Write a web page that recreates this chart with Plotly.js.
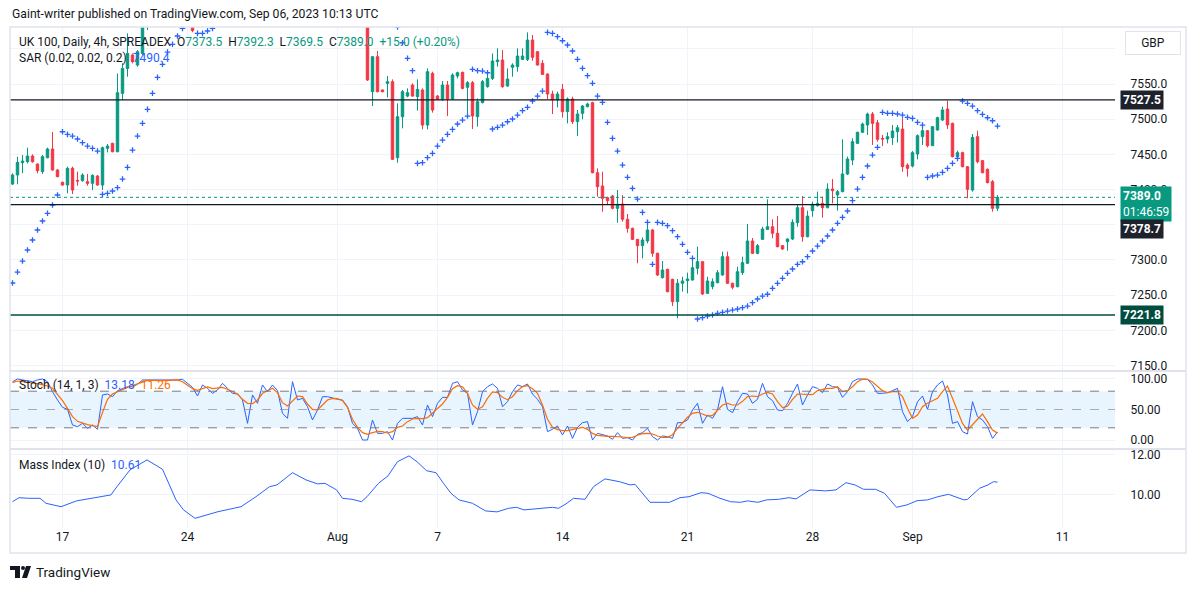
<!DOCTYPE html>
<html><head><meta charset="utf-8">
<script src="https://cdn.plot.ly/plotly-3.0.1.min.js"></script>
<style>html,body{margin:0;padding:0;background:#fff;}#chart{width:1195px;height:589px;}</style>
</head><body><div id="chart"></div>
<script>
// ---- candle data (candle index, OHLC) ----
const candleIdx = [0,1,2,3,4,5,6,7,8,9,10,11,12,13,14,15,16,17,18,19,20,21,22,23,24,25,26,27,36,
71,72,73,74,75,76,77,78,79,80,81,82,83,84,85,86,87,88,89,90,91,92,93,94,95,96,97,98,99,
100,101,102,103,104,105,106,107,108,109,110,111,112,113,114,115,116,117,118,119,
120,121,122,123,124,125,126,127,128,129,130,131,132,133,134,135,136,137,138,139,
140,141,142,143,144,145,146,147,148,149,150,151,152,153,154,155,156,157,158,159,
160,161,162,163,164,165,166,167,168,169,170,171,172,173,174,175,176,177,178,179,
180,181,182,183,184,185,186,187,188,189,190,191,192,193,194,195,196,197];
const opens = [7407.9,7420.7,7438.2,7439.7,7447.7,7436.3,7425.5,7445.3,7457.7,7427.8,7410.3,7406.5,7430.2,7413.1,7412.7,7411.3,7408.9,7419.3,7406.5,7458.6,7465.7,7453.9,7536.7,7572.2,7591.2,7577.0,7593.5,7650,7665,
7660,7539.1,7588.8,7541.5,7550.9,7553.3,7445.3,7503.6,7532.9,7548.6,7532.0,7541.5,7491.7,7565.1,7532.9,7528.2,7548.6,7528.7,7561.4,7566.6,7545.3,7551.9,7503.6,7523.5,7546.2,7558.0,7581.7,7584.1,7547.2,
7573.7,7574.6,7585.0,7585.0,7612.5,7595.9,7579.4,7564.2,7535.8,7527.3,7542.4,7510.7,7528.7,7496.5,7508.3,7517.8,7523.5,7424.0,7405.1,7388.5,
7390.9,7373.4,7379.5,7357.8,7345.0,7329.3,7320.4,7327.0,7342.6,7309.5,7274.9,7286.7,7272.5,7240.8,7266.9,7270.6,7271.6,7288.2,7297.6,7252.6,
7262.1,7267.8,7278.7,7304.7,7266.9,7262.1,7282.0,7295.3,7327.0,7309.5,7329.3,7343.5,7347.3,7337.9,7320.4,7326.0,7329.8,7353.0,7374.3,7333.1,
7370.1,7377.2,7380.5,7374.3,7400.9,7392.3,7397.1,7422.2,7442.0,7465.7,7481.4,7491.8,7507.4,7495.1,7472.8,7471.9,7473.8,7482.3,7486.1,7434.9,
7433.5,7450.6,7475.2,7483.7,7462.4,7484.7,7498.9,7514.5,7494.1,7446.8,7452.5,7432.6,7399.4,7475.2,7441.1,7428.8,7411.3,7373.5];
const highs = [7423.1,7446.8,7449.1,7459.6,7450.1,7437.3,7449.1,7459.6,7481.8,7429.2,7411.3,7432.6,7432.6,7425.5,7423.1,7422.2,7421.7,7420.7,7461.0,7464.8,7466.6,7565.1,7579.4,7622.0,7593.5,7598.3,7660,7680,7675,
7670,7589.8,7596.9,7542.4,7561.4,7556.6,7522.5,7541.5,7543.8,7550.9,7556.6,7543.8,7572.2,7567.5,7534.4,7554.3,7554.3,7565.1,7567.5,7567.5,7554.3,7554.3,7529.6,7555.7,7562.8,7593.5,7600.7,7598.3,7572.2,
7579.4,7600.7,7600.7,7623.4,7619.6,7596.9,7584.1,7565.1,7540.5,7539.1,7550.0,7531.0,7532.0,7513.1,7520.2,7523.5,7524.9,7430.2,7425.5,7390.0,
7392.3,7399.4,7392.3,7365.3,7345.9,7329.8,7332.2,7354.4,7344.0,7310.4,7298.6,7287.7,7273.5,7273.0,7276.3,7282.0,7304.7,7318.9,7298.6,7276.3,
7273.9,7285.8,7311.9,7311.9,7267.8,7290.5,7304.7,7351.1,7331.2,7322.7,7347.3,7386.2,7357.8,7362.5,7321.3,7330.8,7357.8,7378.1,7390.9,7370.1,
7382.9,7397.1,7390.0,7408.9,7415.0,7399.4,7471.4,7446.8,7472.8,7482.3,7495.1,7509.3,7510.2,7498.9,7477.6,7481.4,7491.8,7491.8,7502.2,7437.3,
7454.8,7478.5,7494.1,7484.7,7490.3,7503.6,7517.8,7526.3,7495.1,7455.3,7453.9,7433.5,7479.0,7483.7,7442.0,7430.2,7413.6,7392.3];
const lows = [7406.5,7407.5,7423.1,7437.3,7438.2,7423.1,7422.2,7444.4,7426.9,7417.4,7405.6,7394.7,7393.7,7405.6,7411.3,7405.6,7399.4,7405.6,7399.4,7452.9,7452.9,7452.9,7527.3,7560.4,7579.4,7574.6,7591.0,7626.7,7623.5,
7554.3,7518.7,7538.2,7538.2,7531.0,7442.0,7438.2,7487.0,7531.0,7532.0,7512.1,7485.6,7485.6,7509.3,7527.3,7525.8,7504.5,7527.3,7558.0,7542.4,7508.3,7486.1,7489.4,7522.5,7544.8,7555.7,7574.6,7544.8,7546.2,
7560.4,7567.5,7584.1,7582.7,7583.1,7576.0,7562.8,7528.7,7507.4,7516.8,7502.2,7494.1,7493.2,7476.1,7499.8,7516.9,7423.1,7390.0,7368.6,7378.1,
7371.9,7353.0,7354.4,7338.8,7328.4,7295.3,7302.4,7323.7,7304.7,7277.3,7273.9,7254.1,7234.7,7217.1,7255.0,7252.6,7270.6,7279.6,7250.3,7251.7,
7258.3,7266.9,7277.7,7265.9,7258.3,7261.2,7278.7,7294.3,7308.5,7308.0,7328.4,7342.6,7330.8,7318.0,7314.2,7313.2,7328.4,7347.3,7326.0,7332.2,
7361.5,7375.7,7360.1,7373.4,7380.5,7370.1,7396.1,7420.7,7434.9,7464.8,7480.9,7477.6,7463.4,7468.1,7461.9,7465.7,7463.4,7466.7,7425.5,7418.4,
7431.6,7443.0,7463.4,7460.0,7461.9,7483.7,7497.4,7486.1,7445.8,7442.0,7431.6,7387.6,7397.1,7437.3,7423.1,7408.9,7368.6,7369.5];
const closes = [7420.7,7438.7,7440.6,7447.7,7439.7,7426.9,7446.8,7457.7,7427.8,7418.4,7406.5,7430.2,7399.4,7412.2,7420.7,7408.9,7420.2,7406.5,7459.6,7461.9,7453.9,7537.7,7572.2,7593.5,7581.7,7595.9,7650,7665,7626,
7555.7,7588.8,7539.1,7539.1,7553.3,7443.0,7503.6,7539.1,7537.7,7532.9,7542.4,7491.7,7567.5,7513.1,7528.2,7548.6,7528.7,7562.8,7566.1,7543.8,7551.9,7504.5,7524.9,7553.3,7558.0,7582.7,7584.1,7546.2,7557.1,
7577.0,7589.8,7589.8,7612.5,7587.9,7577.0,7563.7,7535.8,7527.3,7535.8,7510.7,7528.7,7496.5,7507.4,7518.7,7521.6,7424.0,7404.2,7387.6,7384.3,
7373.4,7379.1,7357.8,7345.0,7329.3,7320.4,7328.4,7342.6,7309.5,7278.7,7285.8,7255.0,7240.8,7266.9,7270.2,7273.0,7289.1,7297.6,7251.7,7270.2,
7269.2,7282.0,7304.7,7266.9,7261.2,7283.4,7296.2,7327.0,7309.5,7320.4,7344.0,7347.3,7337.9,7318.9,7315.6,7329.8,7353.5,7374.3,7333.1,7362.5,
7379.1,7380.5,7374.3,7400.9,7398.5,7397.1,7422.2,7443.5,7468.1,7481.4,7493.2,7507.4,7494.1,7471.4,7471.9,7475.2,7483.2,7487.9,7432.6,7430.2,
7452.5,7476.6,7483.7,7462.4,7489.4,7502.2,7513.1,7491.8,7446.8,7452.5,7432.6,7400.4,7474.2,7439.7,7424.0,7409.9,7373.4,7389.0];

// ---- Parabolic SAR ----
const sarIdx = [0,1,2,3,4,5,6,7,8,9,10,11,12,13,14,15,16,17,18,19,20,21,22,23,24,25,26,27,28,29,30,31,32,33,34,37,38,39,40,
77,78,79,80,81,82,83,84,85,86,87,88,89,90,91,92,93,94,95,96,97,98,99,100,101,102,103,104,105,106,
107,108,109,110,111,112,113,114,115,116,117,118,119,120,121,122,123,124,125,126,127,128,
129,130,131,132,133,134,135,136,137,138,139,140,141,142,143,144,145,146,147,148,149,150,151,152,153,154,155,156,157,158,159,
160,161,162,163,164,165,166,167,168,169,170,171,172,173,174,175,176,177,178,179,180,181,182,183,184,185,186,187,188,189,
190,191,192,193,194,195,196,197];
const sarVal = [7267.3,7282.9,7298.5,7314.2,7328.4,7342.6,7355.4,7366.3,7378.1,7392.3,7482.2,7478.5,7476.1,7471.9,7466.6,7461.9,7458.6,7454.8,7393.3,7394.7,7398.0,7402.7,7415.0,7431.6,7456.2,7476.1,7494.2,7514.0,7536.8,7559.5,7578.0,7595.4,7606.4,7618.2,7629.1,7622.0,7622.0,7625.3,7629.1,
7631.0,7608.6,7586.5,7568.9,7437.3,7438.2,7445.3,7451.5,7461.9,7470.4,7478.5,7485.6,7493.2,7498.8,7504.5,7570.9,7568.9,7568.4,7566.0,7486.1,7488.5,7491.7,7496.4,7500.3,7505.9,7512.1,7516.9,7525.8,7532.9,7540.0,
7623.4,7622.0,7617.2,7611.5,7605.4,7596.9,7585.1,7572.3,7561.8,7551.0,7532.9,7524.0,7495.6,7472.8,7454.8,7434.9,7417.5,7401.8,7386.6,7367.7,7353.5,7293.9,
7353.5,7352.1,7348.7,7341.6,7333.1,7322.3,7310.9,7302.4,7216.2,7218.0,7220.4,7221.8,7224.3,7225.7,7227.5,7228.9,7230.4,7232.2,7234.6,7239.3,7244.6,7248.8,7251.3,7259.8,7266.9,7274.0,7281.1,7287.2,7293.9,7297.5,7304.7,
7312.8,7319.8,7327.0,7334.1,7342.6,7352.1,7360.6,7369.6,7384.2,7400.8,7417.4,7433.5,7449.1,7460.1,7509.8,7508.4,7508.4,7507.4,7505.9,7502.7,7501.2,7495.6,7491.7,7417.4,7419.3,7420.7,7424.5,7430.2,7437.3,7444.4,
7525.8,7522.6,7518.7,7512.1,7506.9,7502.1,7497.8,7490.3];

// ---- Stochastic (14,1,3): %K and %D per candle 0..197 ----
const stochK = [95.6,100,98.4,96.7,95.6,98.4,100,95.6,79.2,65.6,
53.6,50.3,24.6,21.9,27.3,19.1,24.6,17.5,73.8,75.4,
71.0,80.9,84.7,87.4,87.4,91.3,98.4,98.4,97.2,97.2,
97.2,97.2,98.4,98.4,99.5,92.9,86.3,72.1,90.2,84.7,
76.5,82.0,92.9,84.7,76.5,75.4,65.6,27.3,73.8,60.1,
90.2,79.2,90.2,80.9,43.7,35.5,95.6,65.6,68.3,54.6,
32.8,49.2,71.0,71.0,68.3,66.7,65.6,54.6,27.3,19.1,
0,0,32.8,10.9,10.9,13.7,0,27.3,35.5,35.5,
35.5,38.3,24.6,57.4,38.3,60.1,69.9,69.9,92.9,95.6,
82.0,76.5,24.6,46.4,79.2,87.4,91.8,84.7,54.6,62.8,
79.2,90.2,87.4,91.8,75.4,66.7,54.6,13.7,17.5,23.0,
8.2,23.0,2.7,20.8,28.4,30.1,0,10.9,8.2,6.6,
1.1,12.0,2.7,3.8,0,9.3,12.0,19.1,5.5,0,
6.6,5.5,2.7,28.4,28.4,32.8,49.2,60.1,27.3,41.0,
35.5,49.2,87.4,50.3,44.8,62.8,76.5,75.4,60.1,66.7,
92.9,71.0,64.5,49.2,48.1,60.1,76.5,91.8,57.4,73.8,
87.4,84.7,77.6,91.8,87.4,86.3,69.9,79.2,95.6,100,
100,99.5,90.2,76.5,76.5,77.6,80.9,84.7,46.4,30.1,
38.3,62.8,72.1,50.3,79.2,90.2,96.7,73.8,27.3,30.1,
13.7,9.8,62.8,38.3,32.8,21.9,2.7,13.18];
const stochD = [94.0,96.7,95.6,95.1,93.4,92.3,90.2,88.5,84.7,75.4,
64.5,51.9,38.3,30.6,27.3,25.1,23.5,21.9,45.0,66.7,
75.4,79.2,83.1,86.3,89.1,91.8,95.6,97.8,97.8,97.2,
97.2,97.8,98.4,98.4,95.6,90.2,84.2,81.4,84.7,86.9,
84.2,84.7,86.3,83.1,78.7,75.4,66.7,60.1,59.6,65.6,
76.5,80.9,84.7,77.6,61.2,55.7,64.5,72.1,71.0,59.0,
50.3,49.2,57.4,65.6,68.3,67.8,64.5,53.6,33.9,20.8,
12.0,9.3,12.0,14.2,13.7,11.5,13.7,20.8,23.0,30.1,
34.4,35.5,35.0,36.6,44.3,51.9,59.0,69.9,84.2,89.1,
87.4,76.5,57.4,50.3,54.6,68.3,78.7,77.6,69.9,66.1,
71.0,80.9,87.4,89.1,84.2,76.5,57.4,33.9,20.8,17.0,
15.3,15.3,17.0,18.6,20.8,17.5,10.9,7.7,6.6,6.0,
6.0,6.0,4.9,3.8,4.4,7.7,10.4,10.9,9.8,6.6,
4.4,4.4,8.7,19.1,28.4,37.2,43.7,45.4,42.6,39.3,
40.4,49.2,57.4,60.1,57.4,57.4,63.4,71.0,72.1,71.0,
75.4,78.1,75.4,62.8,53.0,55.2,66.7,75.4,75.4,74.9,
74.3,80.9,83.1,84.7,84.7,87.4,79.2,80.9,87.4,95.6,
99.5,99.5,95.1,87.4,80.9,77.6,79.2,79.2,71.0,51.9,
35.5,41.0,54.6,60.1,63.9,68.3,79.2,88.5,68.3,49.2,
27.3,16.4,24.6,33.9,42.6,30.1,16.4,11.26];

// ---- Mass Index (10): values read at these candle positions ----
const massIdx = [0,1.3,3.2,5.5,6.7,9.7,12.8,15.9,19.7,20.4,23.5,26.9,30,32.7,34.2,36.5,38.8,41.1,45.7,48.7,51.4,52.9,56,58.7,61,62.5,64.8,66,67.9,69.8,70.9,73.2,75.1,77,79.3,80.9,82.8,84.7,86.2,87.7,89.3,92,94.6,96.9,99.2,100.8,102.3,105.3,108,109.2,110.7,112.2,114.5,116.2,118.5,121.4,123.5,124.5,127.5,131.4,133.5,135.3,137.7,139.1,141.5,143.6,145.6,147,149.1,150.8,153.2,155.3,156.7,159.5,162.6,164.7,166.7,168.5,170.2,172.6,174.4,176.8,178.9,180.9,183,185.1,187.2,188.5,190.3,191,193.4,195.1,196.2,197];
const massVal = [9.63,9.83,9.8,9.8,9.55,9.38,9.67,9.8,9.97,10.22,11.22,11.72,11.25,9.72,9.22,8.8,8.97,9.13,9.38,9.88,10.38,10.47,11.08,10.72,10.52,10.55,10.22,9.8,9.75,9.63,9.88,10.55,10.92,11.63,11.92,11.63,11.18,11.08,10.55,10.05,9.72,9.55,9.17,9.12,9.3,9.35,9.22,9.3,9.35,9.3,9.52,9.8,9.75,10.38,10.77,10.63,10.47,10.5,9.6,9.6,9.83,9.88,10.08,10.05,9.8,9.63,9.6,9.67,9.6,9.72,9.75,9.83,9.77,10.22,10.17,10.22,10.58,10.47,10.25,10.25,10.05,9.35,9.47,9.68,9.72,9.88,10.0,9.88,9.72,9.75,10.3,10.47,10.63,10.61];

// ---- axis labels ----
const dateTickIdx = [10,35,65,85,110,135,160,180,210];
const dateTickText = ['17','24','Aug','7','14','21','28','Sep','11'];
const priceTicks = [7150,7200,7250,7300,7350,7400,7450,7500,7550,7600];
const hiddenPriceTicks = [7350,7600]; // covered by the price tags / currency box
const hLevels = {resist: 7527.5, mid: 7378.7, support: 7221.8, last: 7389.0};

const GREEN = '#089981', RED = '#f23645', BLUE = '#2962ff', ORANGE = '#ff6d00', TXT = '#131722', GRID = '#f0f3fa', BORDER = '#e0e3eb';
const FONT = 'Roboto, "Noto Sans", sans-serif';

const traces = [
  {type:'candlestick', x:candleIdx, open:opens, high:highs, low:lows, close:closes, xaxis:'x', yaxis:'y',
   increasing:{line:{color:GREEN,width:1}, fillcolor:GREEN}, decreasing:{line:{color:RED,width:1}, fillcolor:RED},
   whiskerwidth:0, hoverinfo:'skip'},
  {type:'scatter', mode:'markers', x:sarIdx, y:sarVal, xaxis:'x', yaxis:'y',
   marker:{symbol:'cross-thin', size:4, line:{width:1.3, color:BLUE}, color:BLUE}, hoverinfo:'skip'},
  {type:'scatter', mode:'lines', x:stochK.map((v,i)=>i), y:stochK, xaxis:'x', yaxis:'y2', line:{color:BLUE,width:1}, hoverinfo:'skip'},
  {type:'scatter', mode:'lines', x:stochD.map((v,i)=>i), y:stochD, xaxis:'x', yaxis:'y2', line:{color:ORANGE,width:1.2}, hoverinfo:'skip'},
  {type:'scatter', mode:'lines', x:massIdx, y:massVal, xaxis:'x', yaxis:'y3', line:{color:BLUE,width:1}, hoverinfo:'skip'}
];

const pxX = px => (px-10)/1105;
const pxY = py => (528-py)/501;

const shapes = [
  {type:'rect', xref:'paper', x0:0, x1:1, yref:'y2', y0:20, y1:80, fillcolor:'rgba(33,150,243,0.1)', line:{width:0}, layer:'below'},
  {type:'line', xref:'paper', x0:0, x1:1, yref:'y2', y0:80, y1:80, line:{color:'#787b86', width:1, dash:'dash'}},
  {type:'line', xref:'paper', x0:0, x1:1, yref:'y2', y0:50, y1:50, line:{color:'rgba(120,123,134,0.6)', width:1, dash:'dash'}},
  {type:'line', xref:'paper', x0:0, x1:1, yref:'y2', y0:20, y1:20, line:{color:'#787b86', width:1, dash:'dash'}},
  {type:'line', xref:'paper', x0:0, x1:1, yref:'y', y0:hLevels.last, y1:hLevels.last, line:{color:GREEN, width:1, dash:'dot'}},
  {type:'line', xref:'paper', x0:0, x1:1, yref:'y', y0:hLevels.resist, y1:hLevels.resist, line:{color:TXT, width:1.2}},
  {type:'line', xref:'paper', x0:0, x1:1, yref:'y', y0:hLevels.mid, y1:hLevels.mid, line:{color:TXT, width:1.2}},
  {type:'line', xref:'paper', x0:0, x1:1, yref:'y', y0:hLevels.support, y1:hLevels.support, line:{color:'#004d40', width:1.5}},
  {type:'line', xref:'paper', x0:0, x1:pxX(1186), yref:'paper', y0:pxY(371), y1:pxY(371), line:{color:BORDER, width:2}},
  {type:'line', xref:'paper', x0:0, x1:pxX(1186), yref:'paper', y0:pxY(449), y1:pxY(449), line:{color:BORDER, width:2}},
  {type:'rect', xref:'paper', x0:0, x1:pxX(1186), yref:'paper', y0:pxY(553), y1:pxY(27), line:{color:BORDER, width:1.5}},
  // TradingView logo glyph
  {type:'rect', xref:'paper', yref:'paper', x0:pxX(10), x1:pxX(20), y0:pxY(570), y1:pxY(566), fillcolor:TXT, line:{width:0}},
  {type:'rect', xref:'paper', yref:'paper', x0:pxX(15), x1:pxX(20), y0:pxY(578), y1:pxY(566), fillcolor:TXT, line:{width:0}},
  {type:'circle', xref:'paper', yref:'paper', x0:pxX(21), x1:pxX(25), y0:pxY(570), y1:pxY(566), fillcolor:TXT, line:{width:0}},
  {type:'path', xref:'paper', yref:'paper', path:`M ${pxX(26)} ${pxY(566)} L ${pxX(31)} ${pxY(566)} L ${pxX(27)} ${pxY(578)} L ${pxX(22)} ${pxY(578)} Z`, fillcolor:TXT, line:{width:0}}
];

const g = s => `<span style="color:${GREEN}">${s}</span>`;
const sp = '\u00a0\u00a0';
const LEG = 12;
const annotations = [
  {xref:'paper', yref:'paper', x:pxX(10), y:pxY(14), xanchor:'left', yanchor:'middle', showarrow:false,
   text:'Gaint-writer published on TradingView.com, Sep 06, 2023 10:13 UTC', font:{family:FONT, size:12.2, color:TXT}},
  {xref:'paper', yref:'paper', x:pxX(17), y:pxY(42), xanchor:'left', yanchor:'middle', showarrow:false,
   text:'UK 100, Daily, 4h, SPREADEX'+sp+'O'+g('7373.5')+sp+'H'+g('7392.3')+sp+'L'+g('7369.5')+sp+'C'+g('7389.0')+sp+g('+15.0 (+0.20%)'),
   font:{family:FONT, size:LEG, color:TXT}},
  {xref:'paper', yref:'paper', x:pxX(17), y:pxY(58), xanchor:'left', yanchor:'middle', showarrow:false,
   text:'SAR (0.02, 0.02, 0.2)'+sp+`<span style="color:${BLUE}">7490.4</span>`, font:{family:FONT, size:LEG, color:TXT}},
  {xref:'paper', yref:'paper', x:pxX(17), y:pxY(385), xanchor:'left', yanchor:'middle', showarrow:false,
   text:'Stoch (14, 1, 3)'+sp+`<span style="color:${BLUE}">13.18</span>`+sp+`<span style="color:${ORANGE}">11.26</span>`, font:{family:FONT, size:LEG, color:TXT}},
  {xref:'paper', yref:'paper', x:pxX(17), y:pxY(465), xanchor:'left', yanchor:'middle', showarrow:false,
   text:'Mass Index (10)'+sp+`<span style="color:${BLUE}">10.61</span>`, font:{family:FONT, size:LEG, color:TXT}},
  {xref:'paper', yref:'paper', x:pxX(34), y:pxY(572), xanchor:'left', yanchor:'middle', showarrow:false,
   text:'TradingView', font:{family:FONT, size:13.5, color:TXT}},
  {xref:'paper', yref:'paper', x:pxX(1153), y:pxY(43), xanchor:'center', yanchor:'middle', showarrow:false,
   text:'GBP', width:50, height:18, bordercolor:BORDER, borderwidth:1, borderpad:2, bgcolor:'#fff', font:{family:FONT, size:12, color:TXT}},
  {xref:'paper', yref:'y', x:1, xshift:5, y:hLevels.resist, xanchor:'left', yanchor:'middle', showarrow:false,
   text:'<b>7527.5</b>', bgcolor:'#1e222d', borderpad:2, font:{family:FONT, size:12, color:'#fff'}},
  {xref:'paper', yref:'y', x:1, xshift:5, y:hLevels.last, yshift:-7, xanchor:'left', yanchor:'middle', showarrow:false, align:'left',
   text:'<b>7389.0</b><br>01:46:59', bgcolor:GREEN, borderpad:2, font:{family:FONT, size:12, color:'#fff'}},
  {xref:'paper', yref:'y', x:1, xshift:5, y:hLevels.mid, yshift:-24, xanchor:'left', yanchor:'middle', showarrow:false,
   text:'<b>7378.7</b>', bgcolor:'#1e222d', borderpad:2, font:{family:FONT, size:12, color:'#fff'}},
  {xref:'paper', yref:'y', x:1, xshift:5, y:hLevels.support, xanchor:'left', yanchor:'middle', showarrow:false,
   text:'<b>7221.8</b>', bgcolor:'#004d40', borderpad:2, font:{family:FONT, size:12, color:'#fff'}}
];

const yCommon = {side:'right', anchor:'x', showgrid:true, gridcolor:GRID, zeroline:false, showline:false,
  ticks:'outside', ticklen:12, tickcolor:'rgba(0,0,0,0)', tickfont:{family:FONT, size:12, color:TXT}, fixedrange:true};

const layout = {
  width:1195, height:589, margin:{l:10, r:80, t:27, b:61}, paper_bgcolor:'#fff', plot_bgcolor:'#fff',
  showlegend:false, hovermode:false, font:{family:FONT, color:TXT},
  xaxis:{range:[-0.5,220.5], anchor:'y3', tickvals:dateTickIdx, ticktext:dateTickText, showgrid:true, gridcolor:GRID,
    zeroline:false, showline:false, ticks:'', tickfont:{family:FONT, size:12, color:TXT}, rangeslider:{visible:false}, fixedrange:true},
  yaxis:Object.assign({}, yCommon, {domain:[pxY(371),1], range:[7142.3,7631.0], tickvals:priceTicks,
    ticktext:priceTicks.map(v => hiddenPriceTicks.includes(v) ? '' : v.toFixed(1))}),
  yaxis2:Object.assign({}, yCommon, {domain:[pxY(449),pxY(371)], range:[-14.75,113.1], tickvals:[0,50,100], ticktext:['0.00','50.00','100.00']}),
  yaxis3:Object.assign({}, yCommon, {domain:[0,pxY(449)], range:[8.315,12.265], tickvals:[10,12], ticktext:['10.00','12.00']}),
  shapes:shapes, annotations:annotations
};

Plotly.newPlot('chart', traces, layout, {staticPlot:true, displayModeBar:false});
</script></body></html>
